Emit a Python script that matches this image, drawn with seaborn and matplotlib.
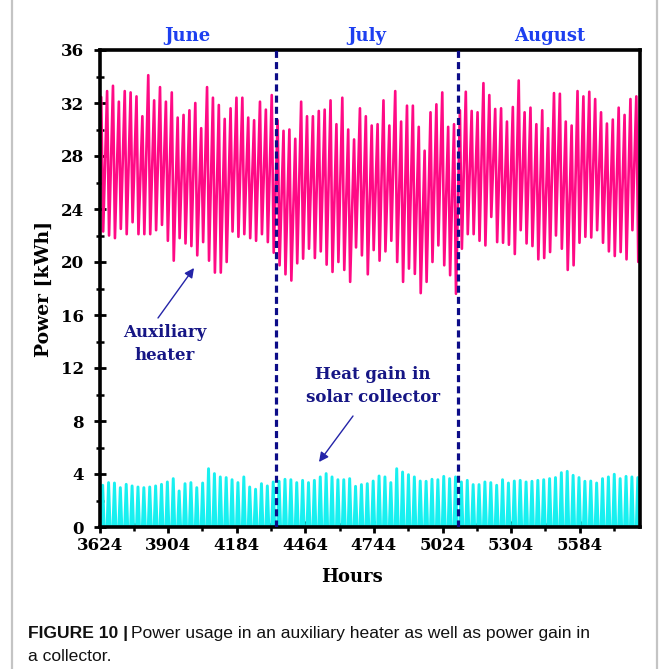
import numpy as np
import pandas as pd
import matplotlib
matplotlib.use("Agg")
import matplotlib.pyplot as plt
import seaborn as sns
from matplotlib.lines import Line2D
from matplotlib.ticker import FixedLocator, MultipleLocator

# ---------------- data ----------------
START_HOUR = 3624
months = ["June", "July", "August"]
month_days = [30, 31, 31]

aux_start = 25.0
aux_peak_june = [32.45, 32.9, 33.3, 32.1, 32.9, 32.8, 32.5, 31.0, 34.1, 32.2,
                 33.2, 32.1, 32.8, 30.9, 31.1, 31.45, 32.0, 30.1, 33.2, 32.4,
                 31.85, 30.8, 31.6, 32.4, 32.4, 30.9, 30.7, 32.1, 31.5, 32.6]
aux_trough_june = [22.3, 22.0, 21.8, 22.5, 22.1, 23.0, 22.1, 22.1, 22.1, 22.4,
                   22.8, 21.6, 20.1, 21.8, 21.4, 21.2, 20.5, 21.5, 20.1, 19.2,
                   19.2, 20.0, 22.3, 21.9, 22.1, 21.8, 21.6, 22.1, 21.5, 20.7]
aux_peak_july = [30.7, 29.9, 30.0, 29.3, 32.1, 31.0, 31.0, 31.4, 31.5, 32.2,
                 30.4, 32.4, 30.0, 29.25, 31.6, 31.0, 30.3, 30.4, 32.2, 30.3,
                 32.9, 30.6, 31.8, 31.8, 30.2, 28.4, 31.3, 31.9, 32.8, 30.2, 30.4]
aux_trough_july = [19.75, 19.07, 18.6, 19.9, 20.25, 21.0, 20.3, 20.8, 19.8, 19.25,
                   20.0, 19.4, 18.5, 21.1, 20.5, 19.07, 20.9, 20.1, 20.8, 21.6,
                   20.0, 18.5, 19.5, 19.1, 17.65, 18.5, 20.0, 21.25, 19.75, 19.0, 17.6]
aux_peak_aug = [31.45, 32.85, 31.4, 31.3, 33.5, 32.6, 31.55, 31.6, 30.6, 31.7,
                33.7, 31.3, 31.65, 30.4, 31.45, 30.1, 32.75, 32.7, 30.6, 30.3,
                32.9, 32.5, 32.85, 32.3, 31.3, 30.45, 30.75, 31.65, 31.1, 32.3, 32.5]
aux_trough_aug = [21.0, 22.1, 22.1, 21.6, 21.25, 23.4, 21.5, 21.45, 21.3, 20.6,
                  22.4, 21.4, 21.2, 20.2, 20.3, 20.75, 22.0, 21.0, 19.4, 19.75,
                  21.45, 21.9, 21.85, 22.4, 21.45, 20.8, 20.45, 20.75, 20.2, 22.4, 20.0]

solar_peak_june = [3.15, 3.35, 3.32, 2.97, 3.22, 3.1, 3.02, 2.97, 3.02, 3.1,
                   3.22, 3.4, 3.65, 2.72, 3.27, 3.35, 2.97, 3.32, 4.4, 4.03,
                   3.78, 3.73, 3.57, 3.35, 3.78, 3.02, 2.85, 3.27, 3.1, 3.4]
solar_peak_july = [3.45, 3.6, 3.57, 3.35, 3.52, 3.35, 3.52, 3.78, 4.03, 3.78,
                   3.57, 3.57, 3.65, 3.07, 3.2, 3.27, 3.47, 3.85, 3.78, 3.35,
                   4.4, 4.15, 3.95, 3.78, 3.47, 3.45, 3.6, 3.57, 3.82, 3.65, 3.78]
solar_peak_aug = [3.4, 3.52, 3.2, 3.2, 3.4, 3.35, 3.15, 3.57, 3.32, 3.47,
                  3.52, 3.4, 3.45, 3.52, 3.57, 3.65, 3.73, 4.1, 4.2, 3.9,
                  3.73, 3.45, 3.47, 3.32, 3.65, 3.78, 3.98, 3.65, 3.82, 3.78, 3.73]

x_tick_labels = ["3624", "3904", "4184", "4464", "4744", "5024", "5304", "5584"]
y_ticks = [0, 4, 8, 12, 16, 20, 24, 28, 32, 36]

# ---------------- build hourly series ----------------
aux_peak = aux_peak_june + aux_peak_july + aux_peak_aug
aux_trough = aux_trough_june + aux_trough_july + aux_trough_aug
solar_peak = solar_peak_june + solar_peak_july + solar_peak_aug

PEAK_H, TROUGH_H = 7, 15
SOLAR_ON, SOLAR_TOP, SOLAR_OFF = 7, 13, 19

aux_rows = [(START_HOUR, aux_start)]
sol_rows = [(START_HOUR, 0.0)]
for d, (p, t, s) in enumerate(zip(aux_peak, aux_trough, solar_peak)):
    base = START_HOUR + 24 * d
    aux_rows += [(base + PEAK_H, p), (base + TROUGH_H, t)]
    sol_rows += [(base + SOLAR_ON, 0.0), (base + SOLAR_TOP, s), (base + SOLAR_OFF, 0.0)]
aux_df = pd.DataFrame(aux_rows, columns=["hour", "power"])
sol_df = pd.DataFrame(sol_rows, columns=["hour", "power"])

total_hours = 24 * sum(month_days)
end_hour = START_HOUR + total_hours

# ---------------- style ----------------
sns.set_theme(style="white")
plt.rcParams["font.family"] = ["DejaVu Serif"]
SERIF = ["DejaVu Serif"]
PINK = "#ff0a85"
CYAN = "#18f0f0"
NAVY = "#0c0c88"
MONTH_BLUE = "#1d3ff0"
ANNOT = "#161685"

fig = plt.figure(figsize=(6.63, 6.69), dpi=100)
ax = fig.add_axes([99.5 / 663, 1 - 527 / 669, (640 - 99.5) / 663, (527 - 50) / 669])

sns.lineplot(data=aux_df, x="hour", y="power", ax=ax, color=PINK, lw=1.9,
             estimator=None, sort=False)
sns.lineplot(data=sol_df, x="hour", y="power", ax=ax, color=CYAN, lw=2.1,
             estimator=None, sort=False)

# month boundaries
bounds = START_HOUR + 24 * np.cumsum(month_days)[:-1]
for b in bounds:
    ax.axvline(b, color=NAVY, lw=2.3, ls=(0, (2.2, 1.3)), zorder=3)

# month titles
starts = START_HOUR + 24 * np.concatenate([[0], np.cumsum(month_days)[:-1]])
for m, s, n in zip(months, starts, month_days):
    ax.annotate(m, xy=(s + 12 * n, 1.0), xycoords=("data", "axes fraction"),
                xytext=(0, 10), textcoords="offset points", ha="center", va="center",
                fontsize=13, fontweight="bold", color=MONTH_BLUE, family=SERIF)

ax.set_xlim(START_HOUR, end_hour - 2)
ax.set_ylim(0, 36)
xt = [START_HOUR + 280 * i for i in range(len(x_tick_labels))]
ax.set_xticks(xt)
ax.set_xticklabels(x_tick_labels)
ax.xaxis.set_minor_locator(FixedLocator([v + 140 for v in xt]))
ax.set_yticks(y_ticks)
ax.set_yticklabels([str(v) for v in y_ticks])
ax.yaxis.set_minor_locator(MultipleLocator(2))

for sp in ax.spines.values():
    sp.set_color("black")
    sp.set_linewidth(2.6)
    sp.set_visible(True)

ax.tick_params(axis="both", which="major", direction="inout", length=8, width=2.0,
               color="black", labelsize=12, labelcolor="black")
ax.tick_params(axis="both", which="minor", direction="inout", length=6, width=1.8,
               color="black")
ax.tick_params(axis="x", which="both", top=False, bottom=True, pad=3)
ax.tick_params(axis="y", which="both", right=False, left=True, pad=7)
for lab in ax.get_xticklabels() + ax.get_yticklabels():
    lab.set_fontweight("bold")
    lab.set_family(SERIF)

ax.set_xlabel("Hours", fontsize=13, fontweight="bold", family=SERIF, color="black")
ax.set_ylabel("Power [kWh]", fontsize=13.5, fontweight="bold", family=SERIF, color="black")
ax.xaxis.set_label_coords(0.467, -0.105)
ax.xaxis.label.set_va("center")
ax.yaxis.set_label_coords(-0.103, 0.5)
ax.yaxis.label.set_va("center")

# annotations
def px2hour(px):
    return START_HOUR + (px - 99.5) / (540.5 / (end_hour - 2 - START_HOUR))

def py2val(py):
    return (527 - py) * 36 / 477

arrow_kw = dict(arrowstyle="-|>", color="#2424a8", lw=1.0, mutation_scale=14,
                shrinkA=0, shrinkB=0)
ax.annotate("", xy=(px2hour(194), py2val(268)), xytext=(px2hour(158), py2val(318)),
            arrowprops=arrow_kw)
ax.text(px2hour(165), py2val(344), "Auxiliary\nheater", ha="center", va="center",
        fontsize=12, fontweight="bold", color=ANNOT, family=SERIF, linespacing=1.45)
ax.annotate("", xy=(px2hour(319), py2val(462)), xytext=(px2hour(353), py2val(416)),
            arrowprops=arrow_kw)
ax.text(px2hour(373), py2val(386), "Heat gain in\nsolar collector", ha="center",
        va="center", fontsize=12, fontweight="bold", color=ANNOT, family=SERIF,
        linespacing=1.45)

# page frame lines
for xp in (12, 657):
    fig.add_artist(Line2D([xp / 663, xp / 663], [0, 1], transform=fig.transFigure,
                          color="#c4c4c4", lw=1.6))

# caption
CAP = ["Liberation Sans", "DejaVu Sans"]
CAP_SIZE = 12.6
t1 = fig.text(28 / 663, 1 - 638 / 669, "FIGURE 10 |", fontsize=CAP_SIZE, fontweight="bold",
              family=CAP, va="baseline", ha="left", color="#111111")
fig.canvas.draw()
bb = t1.get_window_extent()
fig.text((bb.x1 + 3) / 663, 1 - 638 / 669,
         "Power usage in an auxiliary heater as well as power gain in",
         fontsize=CAP_SIZE, family=CAP, va="baseline", ha="left", color="#111111")
fig.text(28 / 663, 1 - 661 / 669, "a collector.", fontsize=CAP_SIZE, family=CAP,
         va="baseline", ha="left", color="#111111")

fig.savefig("out.png", dpi=100, facecolor="white")
